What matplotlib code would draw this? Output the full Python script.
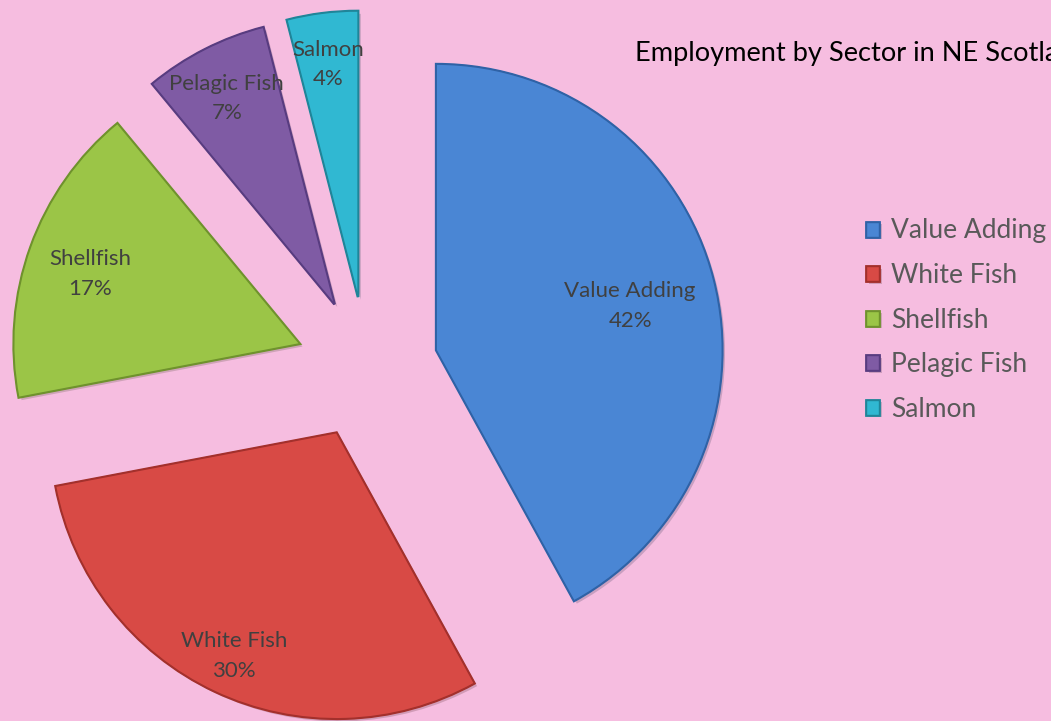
import numpy as np
import matplotlib
matplotlib.use("Agg")
import matplotlib.pyplot as plt
import matplotlib.patheffects as pe

sectors = ["Value Adding", "White Fish", "Shellfish", "Pelagic Fish", "Salmon"]
shares = [42, 30, 17, 7, 4]
colors = ["#4a86d4", "#d84a45", "#9bc547", "#7f5ba4", "#30b8d2"]
edges = ["#2f62a6", "#a3302c", "#6f922d", "#583c80", "#1f8599"]
label_dist = [0.70, 0.84, 0.78, 0.83, 0.84]

bg = "#f6bde0"
plt.rcParams['font.family'] = ['Lato', 'DejaVu Sans']

fig = plt.figure(figsize=(10.51, 7.21), dpi=100, facecolor=bg)
ax = fig.add_axes([0, 0, 1, 1])
ax.set_facecolor(bg)

wedges, _ = ax.pie(shares, colors=colors, startangle=90, counterclock=False,
                   explode=[0.25] * len(shares), radius=1.0,
                   wedgeprops=dict(linewidth=1.0))
for w, ec in zip(wedges, edges):
    w.set_edgecolor(ec)
    w.set_path_effects([pe.SimplePatchShadow(offset=(2, -2), alpha=0.2),
                        pe.Stroke(linewidth=2, foreground=ec), pe.Normal()])

# data labels, placed from each wedge's geometry
for w, name, v, d in zip(wedges, sectors, shares, label_dist):
    th = np.deg2rad((w.theta1 + w.theta2) / 2)
    cx, cy = w.center
    ax.text(cx + d * w.r * np.cos(th), cy + d * w.r * np.sin(th) - 0.02,
            f"{name}\n{v}%", ha="center", va="center", fontsize=16,
            color="#404040", linespacing=1.6)

# pie center sits at (367, 368) px, radius 286 px
r_px = 286.0
ax.set_xlim(-367 / r_px, (1051 - 367) / r_px)
ax.set_ylim(-(721 - 368) / r_px, 368 / r_px)
ax.set_aspect('equal', adjustable='box')
ax.axis('off')

# title runs off the right edge, as in the original
fig.text(635 / 1051, 1 - 53 / 721, "Employment by Sector in NE Scotland",
         ha="left", va="center", fontsize=19.6, color="black")

leg = ax.legend(wedges, sectors, loc="center left",
                bbox_to_anchor=(866 / 1051, 1 - 320 / 721),
                frameon=False, fontsize=19, labelcolor="#595959",
                handlelength=0.5, handleheight=0.5, handletextpad=0.45,
                labelspacing=0.74, borderaxespad=0, borderpad=0)

fig.savefig("out.png", dpi=100, facecolor=bg)
